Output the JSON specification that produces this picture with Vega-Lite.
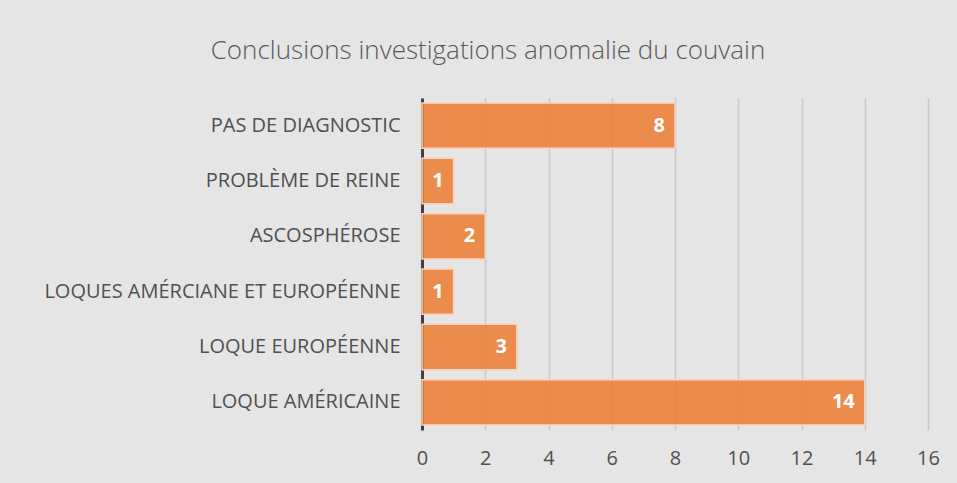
{
  "$schema": "https://vega.github.io/schema/vega-lite/v6.json",
  "autosize": {"type": "none"},
  "width": 506,
  "height": 332,
  "padding": {"left": 422, "top": 98, "right": 29, "bottom": 53},
  "background": "#e5e5e5",
  "title": {
    "text": "Conclusions investigations anomalie du couvain",
    "font": "Open Sans",
    "fontSize": 26,
    "fontWeight": 300,
    "color": "#595959",
    "anchor": "middle",
    "dx": -187,
    "offset": 34
  },
  "data": {
    "values": [
      {"conclusion": "PAS DE DIAGNOSTIC", "n": 8},
      {"conclusion": "PROBLÈME DE REINE", "n": 1},
      {"conclusion": "ASCOSPHÉROSE", "n": 2},
      {"conclusion": "LOQUES AMÉRCIANE ET EUROPÉENNE", "n": 1},
      {"conclusion": "LOQUE EUROPÉENNE", "n": 3},
      {"conclusion": "LOQUE AMÉRICAINE", "n": 14}
    ]
  },
  "encoding": {
    "y": {
      "field": "conclusion",
      "type": "nominal",
      "sort": null,
      "scale": {"paddingInner": 0.18, "paddingOuter": 0.09},
      "axis": {
        "title": null,
        "domain": true,
        "domainColor": "#404040",
        "domainWidth": 3,
        "ticks": false,
        "labelPadding": 22,
        "labelFont": "Open Sans",
        "labelFontSize": 20,
        "labelColor": "#505050",
        "labelLimit": 500
      }
    },
    "x": {
      "field": "n",
      "type": "quantitative",
      "scale": {"domain": [0, 16], "nice": false},
      "axis": {
        "title": null,
        "values": [0, 2, 4, 6, 8, 10, 12, 14, 16],
        "domain": false,
        "grid": true,
        "gridColor": "#c8c8c8",
        "gridWidth": 1.5,
        "ticks": false,
        "labelFlush": false,
        "labelPadding": 18,
        "labelFont": "Open Sans",
        "labelFontSize": 20,
        "labelColor": "#505050"
      }
    }
  },
  "layer": [
    {
      "mark": {
        "type": "bar",
        "fill": "#ED7D31",
        "fillOpacity": 0.85,
        "stroke": "#f6d3bd",
        "strokeWidth": 1.5
      }
    },
    {
      "mark": {
        "type": "text",
        "align": "right",
        "baseline": "middle",
        "dx": -10,
        "font": "Open Sans",
        "fontSize": 20,
        "fontWeight": "bold",
        "color": "white"
      },
      "encoding": {"text": {"field": "n", "type": "quantitative"}}
    }
  ],
  "config": {"view": {"stroke": null}}
}
